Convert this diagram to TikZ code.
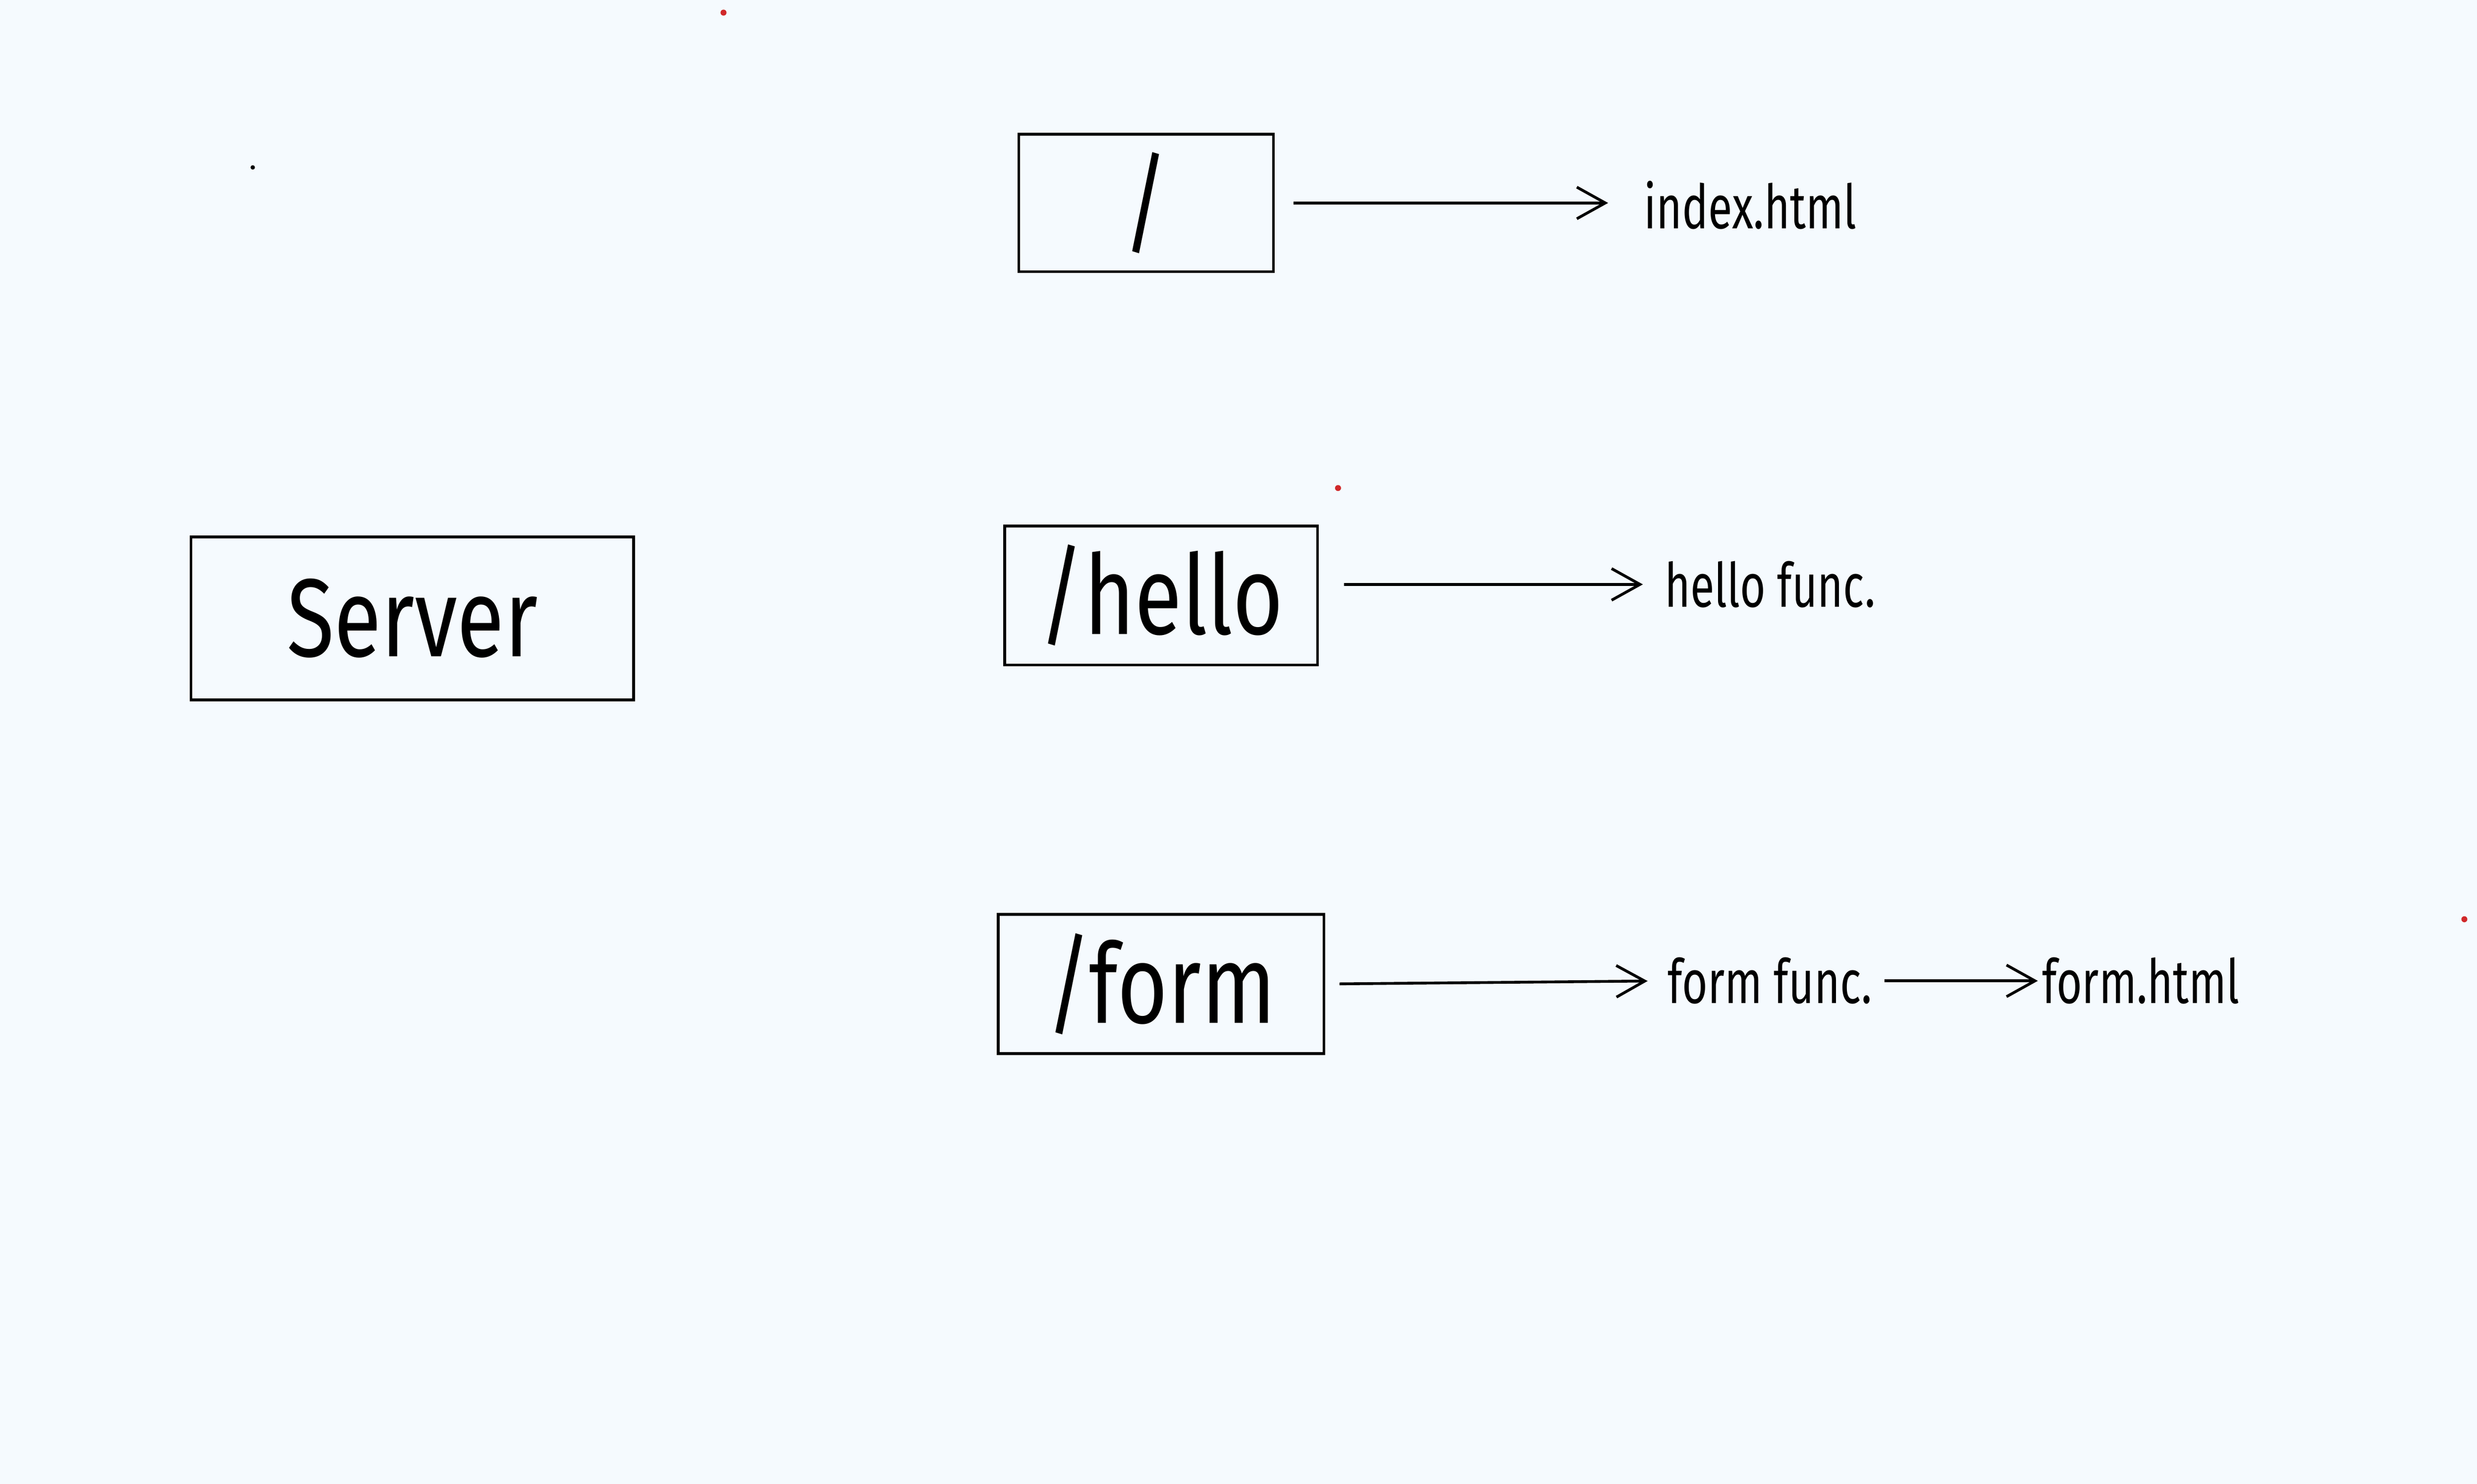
\documentclass[tikz,border=0pt]{standalone}
\usepackage{fontspec}
\setmainfont{Fira Sans}
\newfontfamily\handfont[FakeStretch=0.78]{Fira Sans}
\newfontfamily\smallhand[FakeStretch=0.72]{Fira Sans}
\usetikzlibrary{arrows.meta}
\definecolor{canvas}{HTML}{F5FAFE}
\definecolor{reddot}{HTML}{D0282A}
\begin{document}
\begin{tikzpicture}[x=0.01cm,y=-0.01cm,
	route/.style={draw, line width=0.5pt, minimum width=#1, inner sep=0pt, font=\handfont\fontsize{20}{24}\selectfont},
	fname/.style={anchor=west, inner sep=0pt, font=\smallhand\fontsize{11}{13}\selectfont},
	link/.style={line width=0.5pt, -{Straight Barb[length=0.18cm, width=0.2cm, line width=0.5pt]}}]
	%hatter
	\fill [canvas] (0,0) rectangle (1568,939.4);
	\useasboundingbox (0,0) rectangle (1568,939.4);
	%pottyok
	\fill [black] (160,106) circle [radius=1.4];
	\fill [reddot] (458,8) circle [radius=1.9];
	\fill [reddot] (847,309) circle [radius=1.9];
	\fill [reddot] (1560,582) circle [radius=1.9];
	%dobozok
	\node [route=2.80cm, minimum height=1.03cm, font=\handfont\fontsize{20}{24}\selectfont] (server) at (261,391.5) {Server};
	\node [route=1.61cm, minimum height=0.87cm] (root) at (725.5,128.5) {/};
	\node [route=1.98cm, minimum height=0.88cm] (hello) at (735,377) {/hello};
	\node [route=2.06cm, minimum height=0.88cm] (form) at (735,623) {/form};
	%cimkek
	\node [fname] (index) at (1040,130) {index.html};
	\node [fname] (hellofn) at (1053,370) {hello func.};
	\node [fname] (formfn) at (1055,621) {form func.};
	\node [fname] (formhtml) at (1292,621) {form.html};
	%nyilak
	\draw [link, shorten <=0.12cm, shorten >=0.22cm] (root.east) -- (root.east -| index.west);
	\draw [link, shorten <=0.16cm, shorten >=0.13cm] (hello.east |- hellofn.west) -- (hellofn.west);
	\draw [link, shorten <=0.09cm, shorten >=0.12cm] (form.east) -- (formfn.west);
	\draw [link, shorten <=0.07cm, shorten >=0.02cm] (formfn.east) -- (formhtml.west);
\end{tikzpicture}
\end{document}
